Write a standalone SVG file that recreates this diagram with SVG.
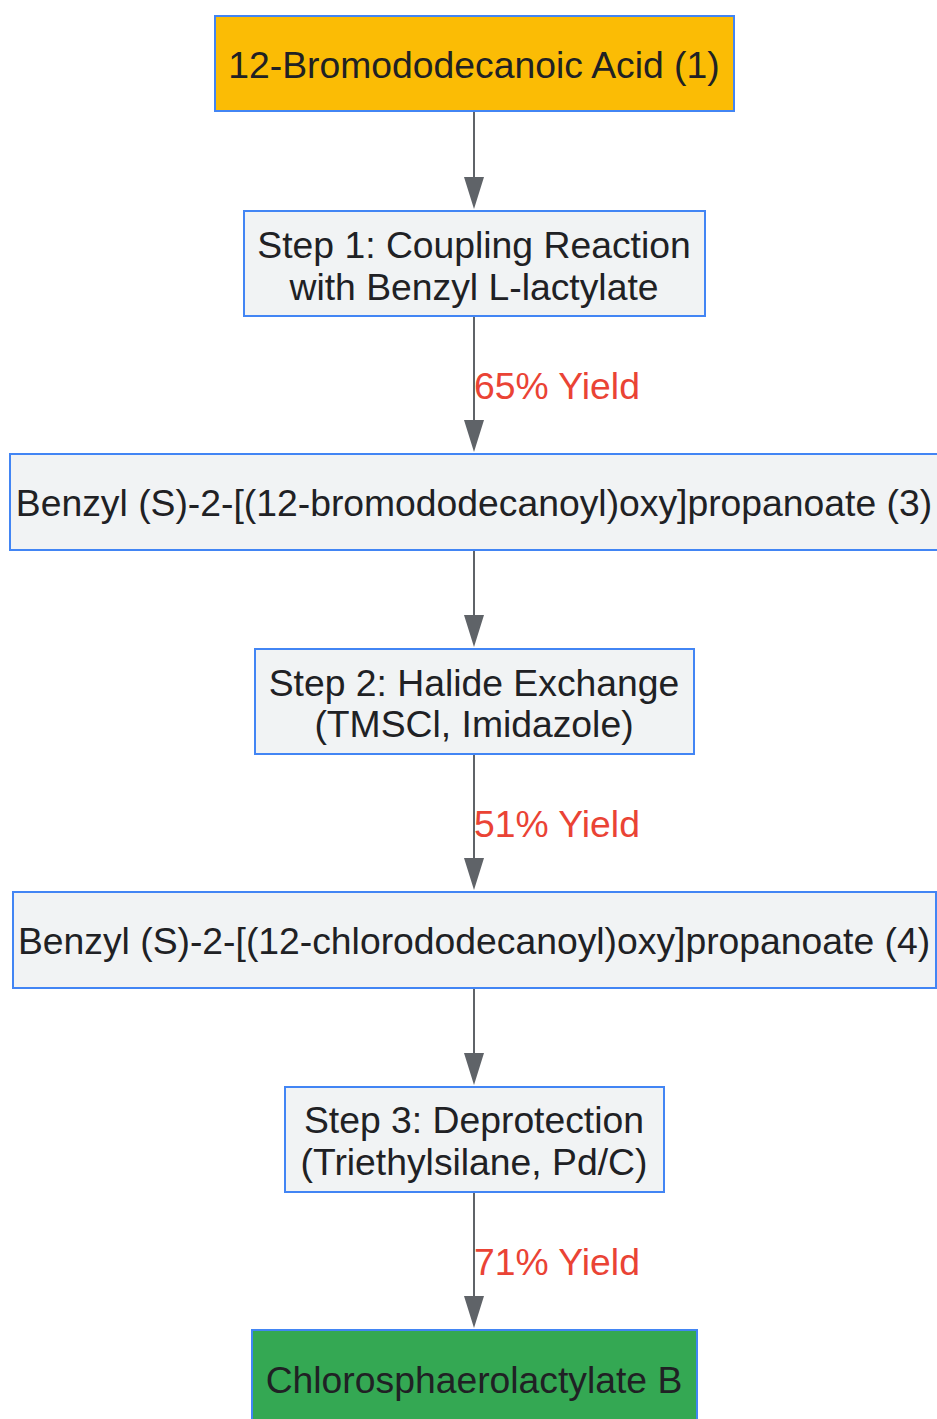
<svg xmlns="http://www.w3.org/2000/svg" width="937" height="1419" viewBox="0 0 937 1419">
<style>
.box{stroke:#4285F4;stroke-width:2}
.grey{fill:#F1F3F4}
.t{font-family:"Liberation Sans",Arial,sans-serif;font-size:37.3px;fill:#202124;text-anchor:middle;dominant-baseline:central}
.lbl{font-family:"Liberation Sans",Arial,sans-serif;font-size:37.3px;fill:#EA4335;dominant-baseline:central}
.edge{stroke:#5F6368;stroke-width:2;fill:none}
.head{fill:#5F6368}
</style>
<rect width="937" height="1419" fill="#FFFFFF"/>
<g id="connectors">
<line class="edge" x1="474" y1="111" x2="474" y2="180"/>
<line class="edge" x1="474" y1="316" x2="474" y2="423"/>
<line class="edge" x1="474" y1="550" x2="474" y2="618"/>
<line class="edge" x1="474" y1="754" x2="474" y2="861"/>
<line class="edge" x1="474" y1="988" x2="474" y2="1056"/>
<line class="edge" x1="474" y1="1192" x2="474" y2="1299"/>
<path class="head" d="M464,177 L484,177 L474,209 Z"/>
<path class="head" d="M464,420 L484,420 L474,452 Z"/>
<path class="head" d="M464,615 L484,615 L474,647 Z"/>
<path class="head" d="M464,858 L484,858 L474,890 Z"/>
<path class="head" d="M464,1053 L484,1053 L474,1085 Z"/>
<path class="head" d="M464,1296 L484,1296 L474,1328 Z"/>
<text class="lbl" x="474" y="386">65% Yield</text>
<text class="lbl" x="474" y="824">51% Yield</text>
<text class="lbl" x="474" y="1262">71% Yield</text>
</g>
<g id="node1">
<rect class="box" x="215" y="16" width="519" height="95" fill="#FBBC05"/>
<text class="t" x="474" y="65">12-Bromododecanoic Acid (1)</text>
</g>
<g id="node2">
<rect class="box grey" x="244" y="211" width="461" height="105"/>
<text class="t" x="474" y="245">Step 1: Coupling Reaction</text>
<text class="t" x="474" y="287">with Benzyl L-lactylate</text>
</g>
<g id="node3">
<rect class="box grey" x="10" y="454" width="929" height="96"/>
<text class="t" x="474" y="503">Benzyl (S)-2-[(12-bromododecanoyl)oxy]propanoate (3)</text>
</g>
<g id="node4">
<rect class="box grey" x="255" y="649" width="439" height="105"/>
<text class="t" x="474" y="683">Step 2: Halide Exchange</text>
<text class="t" x="474" y="724">(TMSCl, Imidazole)</text>
</g>
<g id="node5">
<rect class="box grey" x="13" y="892" width="923" height="96"/>
<text class="t" x="474" y="941">Benzyl (S)-2-[(12-chlorododecanoyl)oxy]propanoate (4)</text>
</g>
<g id="node6">
<rect class="box grey" x="285" y="1087" width="379" height="105"/>
<text class="t" x="474" y="1120">Step 3: Deprotection</text>
<text class="t" x="474" y="1162">(Triethylsilane, Pd/C)</text>
</g>
<g id="node7">
<rect class="box" x="252" y="1330" width="445" height="96" fill="#34A853"/>
<text class="t" x="474" y="1380">Chlorosphaerolactylate B</text>
</g>
</svg>
